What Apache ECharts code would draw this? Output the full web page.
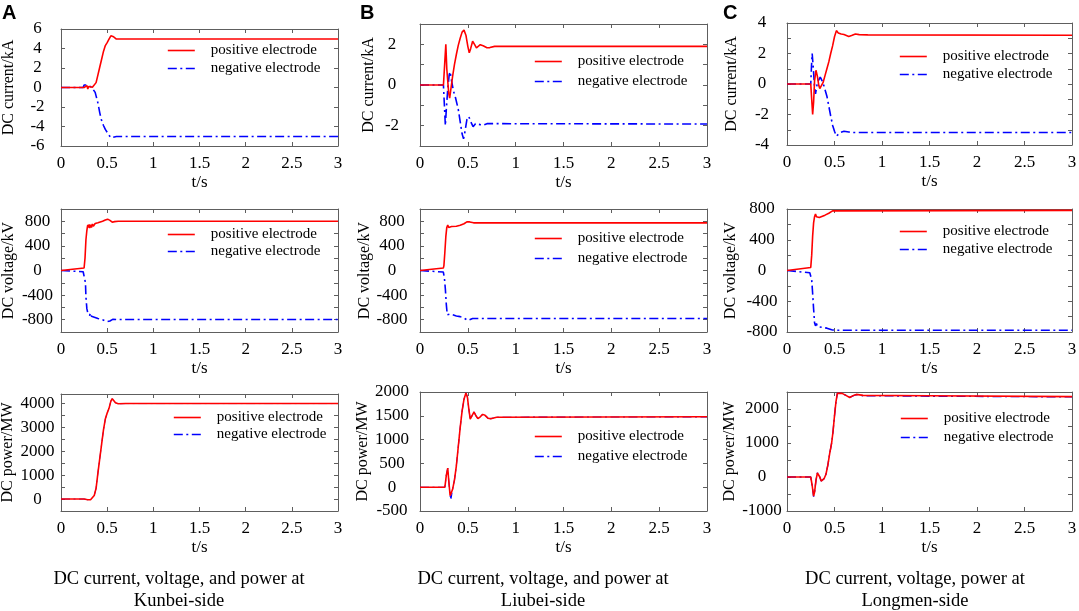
<!DOCTYPE html>
<html><head><meta charset="utf-8">
<script src="https://cdn.jsdelivr.net/npm/echarts@6/dist/echarts.min.js"></script>
<style>html,body{margin:0;padding:0;background:#fff}#c{width:1079px;height:611px}</style>
</head><body><div id="c"></div>
<script>
// ---------- text ----------
const seriesNames = ['positive electrode', 'negative electrode'];
const panelLetters = ['A', 'B', 'C'];
const yAxisNames = ['DC current/kA', 'DC voltage/kV', 'DC power/MW'];
const xAxisName = 't/s';
const captions = [
  ['DC current, voltage, and power at', 'Kunbei-side'],
  ['DC current, voltage, and power at', 'Liubei-side'],
  ['DC current, voltage, power at', 'Longmen-side']
];
const xTicks = [0, 0.5, 1, 1.5, 2, 2.5, 3];

// ---------- data: [t (s), value] ----------
// Kunbei (A)
const kunbeiCurrentPos = [[0,0],[0.25,0],[0.26,0.2],[0.27,-0.15],[0.28,0.2],[0.29,-0.15],[0.3,0.1],[0.32,0],[0.34,0.02],[0.36,0.1],[0.38,0.5],[0.4,1.3],[0.42,2.1],[0.44,2.9],[0.46,3.7],[0.48,4.3],[0.5,4.6],[0.52,4.95],[0.54,5.3],[0.55,5.43],[0.57,5.2],[0.6,4.97],[0.7,4.98],[3,4.98]];
const kunbeiCurrentNeg = [[0,0],[0.24,0],[0.25,0.25],[0.27,0.1],[0.28,0.25],[0.3,0.15],[0.33,0.05],[0.35,-0.1],[0.37,-0.5],[0.4,-1.6],[0.42,-2.6],[0.44,-3.4],[0.46,-3.9],[0.48,-4.3],[0.5,-4.6],[0.52,-4.9],[0.54,-5.15],[0.56,-5.1],[0.6,-5.02],[3,-5.02]];
const kunbeiVoltagePos = [[0,0],[0.25,40],[0.26,200],[0.27,500],[0.28,650],[0.285,700],[0.29,740],[0.3,700],[0.305,750],[0.31,690],[0.32,745],[0.33,700],[0.34,755],[0.35,720],[0.37,765],[0.4,775],[0.45,800],[0.48,820],[0.505,835],[0.53,815],[0.555,785],[0.58,795],[0.62,800],[3,800]];
const kunbeiVoltageNeg = [[0,0],[0.24,-20],[0.255,-40],[0.265,-200],[0.27,-430],[0.28,-620],[0.29,-690],[0.3,-660],[0.31,-730],[0.32,-690],[0.33,-745],[0.35,-760],[0.4,-780],[0.45,-800],[0.5,-830],[0.51,-840],[0.53,-820],[0.56,-795],[0.6,-797],[3,-797]];
const kunbeiPowerPos = [[0,0],[0.25,0],[0.29,-30],[0.32,-25],[0.34,0],[0.36,150],[0.38,450],[0.4,1100],[0.42,1700],[0.44,2300],[0.46,2900],[0.48,3350],[0.5,3600],[0.52,3800],[0.54,4100],[0.555,4200],[0.57,4120],[0.59,4030],[0.62,3990],[0.7,4000],[3,4000]];
const kunbeiPowerNeg = [[0,0],[0.25,0],[0.29,-30],[0.32,-25],[0.34,0],[0.36,150],[0.38,450],[0.4,1100],[0.42,1700],[0.44,2300],[0.46,2900],[0.48,3350],[0.5,3600],[0.52,3800],[0.54,4100],[0.555,4200],[0.57,4120],[0.59,4030],[0.62,3990],[0.7,4000],[3,4000]];
// Liubei (B)
const liubeiCurrentPos = [[0,0],[0.245,0],[0.26,1.2],[0.27,2.0],[0.28,0.8],[0.3,-0.4],[0.31,-0.65],[0.32,-0.3],[0.34,0.4],[0.36,1.0],[0.38,1.5],[0.4,1.95],[0.42,2.3],[0.44,2.6],[0.46,2.7],[0.48,2.45],[0.5,1.9],[0.515,1.58],[0.53,1.8],[0.55,2.15],[0.57,2.0],[0.59,1.83],[0.61,1.9],[0.63,1.98],[0.66,1.93],[0.7,1.83],[0.73,1.84],[0.78,1.9],[3,1.9]];
const liubeiCurrentNeg = [[0,0],[0.245,0],[0.255,-1.0],[0.265,-2.0],[0.275,-1.2],[0.29,-0.2],[0.305,0.5],[0.315,0.65],[0.33,0.2],[0.35,-0.3],[0.37,-0.6],[0.4,-1.2],[0.42,-1.8],[0.44,-2.4],[0.455,-2.65],[0.47,-2.3],[0.49,-1.7],[0.51,-1.55],[0.53,-1.8],[0.555,-2.05],[0.58,-1.9],[0.6,-1.82],[0.63,-1.95],[0.66,-1.97],[0.7,-1.9],[3,-1.92]];
const liubeiVoltagePos = [[0,0],[0.244,40],[0.25,80],[0.26,300],[0.27,550],[0.28,700],[0.29,740],[0.3,700],[0.31,725],[0.32,690],[0.33,715],[0.35,705],[0.38,720],[0.42,735],[0.46,760],[0.49,790],[0.5,805],[0.52,790],[0.53,770],[0.56,775],[3,775]];
const liubeiVoltageNeg = [[0,0],[0.244,-25],[0.255,-120],[0.265,-300],[0.275,-550],[0.285,-720],[0.3,-745],[0.31,-710],[0.32,-735],[0.34,-720],[0.38,-740],[0.42,-750],[0.46,-775],[0.5,-810],[0.52,-795],[0.55,-780],[3,-780]];
const liubeiPowerPos = [[0,0],[0.26,0],[0.275,250],[0.29,400],[0.3,150],[0.315,-180],[0.325,-220],[0.34,-50],[0.36,150],[0.38,450],[0.4,850],[0.42,1250],[0.44,1600],[0.46,1850],[0.48,1980],[0.495,1900],[0.51,1650],[0.525,1430],[0.54,1470],[0.565,1580],[0.585,1500],[0.605,1440],[0.63,1480],[0.655,1530],[0.68,1510],[0.71,1450],[0.74,1440],[0.8,1470],[3,1480]];
const liubeiPowerNeg = [[0,0],[0.26,0],[0.275,250],[0.29,400],[0.3,150],[0.315,-190],[0.325,-240],[0.34,-50],[0.36,150],[0.38,450],[0.4,850],[0.42,1250],[0.44,1600],[0.46,1850],[0.48,1980],[0.495,1900],[0.51,1650],[0.525,1430],[0.54,1470],[0.565,1580],[0.585,1500],[0.605,1440],[0.63,1480],[0.655,1530],[0.68,1510],[0.71,1450],[0.74,1440],[0.8,1470],[3,1478]];
// Longmen (C)
const longmenCurrentPos = [[0,0],[0.25,0],[0.26,-1.0],[0.27,-2.0],[0.28,-1.2],[0.29,0.2],[0.305,0.9],[0.32,0.5],[0.335,-0.1],[0.345,-0.3],[0.36,-0.2],[0.38,0.1],[0.4,0.55],[0.42,1.0],[0.44,1.45],[0.46,2.0],[0.48,2.5],[0.5,3.1],[0.52,3.5],[0.54,3.35],[0.57,3.28],[0.6,3.25],[0.65,3.12],[0.68,3.18],[0.72,3.28],[0.76,3.24],[0.85,3.22],[3,3.2]];
const longmenCurrentNeg = [[0,0],[0.25,0],[0.258,1.2],[0.265,2.0],[0.275,1.2],[0.29,-0.2],[0.3,-0.65],[0.32,0.1],[0.35,0.45],[0.37,0.2],[0.39,-0.15],[0.42,-0.8],[0.44,-1.45],[0.46,-2.1],[0.48,-2.7],[0.5,-3.1],[0.52,-3.42],[0.54,-3.3],[0.56,-3.18],[0.6,-3.1],[0.65,-3.15],[0.7,-3.18],[3,-3.18]];
const longmenVoltagePos = [[0,0],[0.25,40],[0.26,200],[0.27,450],[0.28,620],[0.29,700],[0.3,735],[0.31,700],[0.32,725],[0.34,690],[0.36,715],[0.4,720],[0.44,745],[0.48,775],[0.5,782],[3,782]];
const longmenVoltageNeg = [[0,0],[0.24,-30],[0.25,-40],[0.26,-120],[0.27,-300],[0.28,-500],[0.29,-680],[0.3,-720],[0.31,-690],[0.32,-730],[0.34,-710],[0.37,-740],[0.42,-750],[0.47,-770],[0.5,-777],[3,-777]];
const longmenPowerPos = [[0,0],[0.25,0],[0.265,-250],[0.28,-560],[0.29,-450],[0.305,-100],[0.32,120],[0.33,140],[0.345,0],[0.36,-120],[0.375,-130],[0.39,-50],[0.41,80],[0.43,350],[0.45,700],[0.47,1000],[0.485,1350],[0.5,1800],[0.515,2200],[0.53,2460],[0.55,2500],[0.58,2460],[0.62,2400],[0.66,2340],[0.7,2400],[0.73,2430],[0.8,2400],[1.5,2390],[3,2365]];
const longmenPowerNeg = [[0,0],[0.25,0],[0.265,-250],[0.28,-580],[0.29,-450],[0.305,-100],[0.32,120],[0.33,140],[0.345,0],[0.36,-120],[0.375,-130],[0.39,-50],[0.41,80],[0.43,350],[0.45,700],[0.47,1000],[0.485,1350],[0.5,1800],[0.515,2200],[0.53,2460],[0.55,2500],[0.58,2460],[0.62,2400],[0.66,2340],[0.7,2390],[0.73,2420],[0.8,2390],[1.5,2375],[3,2355]];

// ---------- layout (positions / styles) ----------
const panels = [
  {col:0,row:0,box:[61,29,277,117], y:[-6,6,2,2],        nameGap:44, labelCx:37.5, legend:[167,50,17],  negW:1.6, pos:kunbeiCurrentPos, neg:kunbeiCurrentNeg},
  {col:1,row:0,box:[420,24,287,122],y:[-3,3,1,2],        nameGap:43, labelCx:392,  legend:[534,61,19],  negW:1.6, pos:liubeiCurrentPos, neg:liubeiCurrentNeg},
  {col:2,row:0,box:[787,23,285,122],y:[-4,4,1,2],        nameGap:47, labelCx:762,  legend:[899,56,17],  negW:1.6, pos:longmenCurrentPos,neg:longmenCurrentNeg},
  {col:0,row:1,box:[61,209,277,123],y:[-1000,1000,200,400],nameGap:44,labelCx:37.5,legend:[167,234,16], negW:1.6, pos:kunbeiVoltagePos, neg:kunbeiVoltageNeg},
  {col:1,row:1,box:[420,209,287,123],y:[-1000,1000,200,400],nameGap:46,labelCx:392,legend:[534,238,19], negW:1.6, pos:liubeiVoltagePos, neg:liubeiVoltageNeg},
  {col:2,row:1,box:[787,209,285,123],y:[-800,800,200,400],nameGap:48,labelCx:762,  legend:[899,231,17], negW:1.6, pos:longmenVoltagePos,neg:longmenVoltageNeg},
  {col:0,row:2,box:[61,394,277,117],y:[-500,4400,500,1000],nameGap:45,labelCx:37.5,legend:[173,417,16], negW:0.9, pos:kunbeiPowerPos, neg:kunbeiPowerNeg},
  {col:1,row:2,box:[420,392,287,119],y:[-500,2000,500,500],nameGap:46,labelCx:392, legend:[534,436,19], negW:1.1, pos:liubeiPowerPos, neg:liubeiPowerNeg},
  {col:2,row:2,box:[787,392,285,119],y:[-1000,2500,500,1000],nameGap:47,labelCx:762,legend:[900,418,18], negW:1.3, pos:longmenPowerPos,neg:longmenPowerNeg}
];
const captionX = [179, 543, 915];
const letterX = [2, 360, 723];

const SERIF = '"Liberation Serif","Times New Roman",serif';
const AXIS_COLOR = '#5e5e5e';
const RED = '#ff0000', BLUE = '#0000ff';
const NEG_DASH = [9, 3.5, 2, 3.5];
const HIDDEN = {color:'rgba(0,0,0,0)', borderColor:'rgba(0,0,0,0)', borderWidth:0};

const grids = [], xAxes = [], yAxes = [], series = [], legends = [], graphics = [];
panels.forEach((p, i) => {
  const [l, t, w, h] = p.box;
  grids.push({left:l, top:t, width:w, height:h, containLabel:false, outerBoundsMode:'none', show:false});
  const lineStyle = {show:true, onZero:false, lineStyle:{color:AXIS_COLOR, width:1}};
  const tick = {show:true, inside:true, length:4, lineStyle:{color:AXIS_COLOR, width:1}};
  xAxes.push({gridIndex:i, type:'value', position:'bottom', min:0, max:3, interval:0.5,
    axisLine:lineStyle, axisTick:tick, splitLine:{show:false},
    axisLabel:{show:true, margin:9, color:'#000', fontFamily:SERIF, fontSize:17,
      formatter: v => xTicks.includes(+v.toFixed(2)) ? String(+v.toFixed(2)) : ''},
    name:xAxisName, nameLocation:'middle', nameGap:28,
    nameTextStyle:{color:'#000', fontFamily:SERIF, fontSize:17}});
  xAxes.push({gridIndex:i, type:'value', position:'top', min:0, max:3, interval:0.5,
    axisLine:lineStyle, axisTick:tick, splitLine:{show:false}, axisLabel:{show:false}});
  const [ymin, ymax, yint, ystep] = p.y;
  yAxes.push({gridIndex:i, type:'value', position:'left', min:ymin, max:ymax, interval:yint,
    axisLine:lineStyle, axisTick:tick, splitLine:{show:false},
    axisLabel:{show:true, showMinLabel:true, showMaxLabel:true, align:'center', margin:l - p.labelCx,
      color:'#000', fontFamily:SERIF, fontSize:17,
      formatter: v => (Math.abs(Math.round(v) % ystep) === 0 ? String(Math.round(v)) : '')},
    name:yAxisNames[p.row], nameLocation:'middle', nameRotate:90, nameGap:p.nameGap,
    nameTextStyle:{color:'#000', fontFamily:SERIF, fontSize:16}});
  yAxes.push({gridIndex:i, type:'value', position:'right', min:ymin, max:ymax, interval:yint,
    axisLine:lineStyle, axisTick:tick, splitLine:{show:false}, axisLabel:{show:false}});
  const xi = i * 2, yi = i * 2;
  series.push({name:seriesNames[1], type:'line', xAxisIndex:xi, yAxisIndex:yi, data:p.neg,
    symbol:'none', showSymbol:false, z:2, itemStyle:{color:BLUE},
    lineStyle:{color:BLUE, width:p.negW, type:NEG_DASH}});
  series.push({name:seriesNames[0], type:'line', xAxisIndex:xi, yAxisIndex:yi, data:p.pos,
    symbol:'none', showSymbol:false, z:3, itemStyle:{color:RED},
    lineStyle:{color:RED, width:1.6, type:'solid'}});
  const [lx, ly, lgap] = p.legend;
  legends.push({
    data:[
      {name:seriesNames[0], itemStyle:HIDDEN, lineStyle:{color:RED, width:1.6, type:'solid'}},
      {name:seriesNames[1], itemStyle:HIDDEN, lineStyle:{color:BLUE, width:1.6, type:NEG_DASH}}
    ],
    left:lx, top:ly - 7, orient:'vertical', padding:0,
    itemWidth:27, itemHeight:14, itemGap:lgap - 14, selectedMode:false,
    itemStyle:HIDDEN,
    textStyle:{color:'#000', fontFamily:SERIF, fontSize:15, lineHeight:14, padding:[0,0,0,11]}});
});
captions.forEach((c, k) => {
  c.forEach((line, j) => {
    graphics.push({type:'text', x:captionX[k], y:579 + j * 22,
      style:{text:line, fill:'#000', font:'18.5px ' + SERIF, textAlign:'center', textVerticalAlign:'middle'}});
  });
});
panelLetters.forEach((L, k) => {
  graphics.push({type:'text', x:letterX[k], y:3,
    style:{text:L, fill:'#000', font:'bold 20px "Liberation Sans",Arial,sans-serif', textAlign:'left', textVerticalAlign:'top'}});
});

const chart = echarts.init(document.getElementById('c'), null, {renderer:'canvas'});
chart.setOption({
  animation:false, backgroundColor:'#fff',
  grid:grids, xAxis:xAxes, yAxis:yAxes, series:series, legend:legends, graphic:graphics
});
</script></body></html>
